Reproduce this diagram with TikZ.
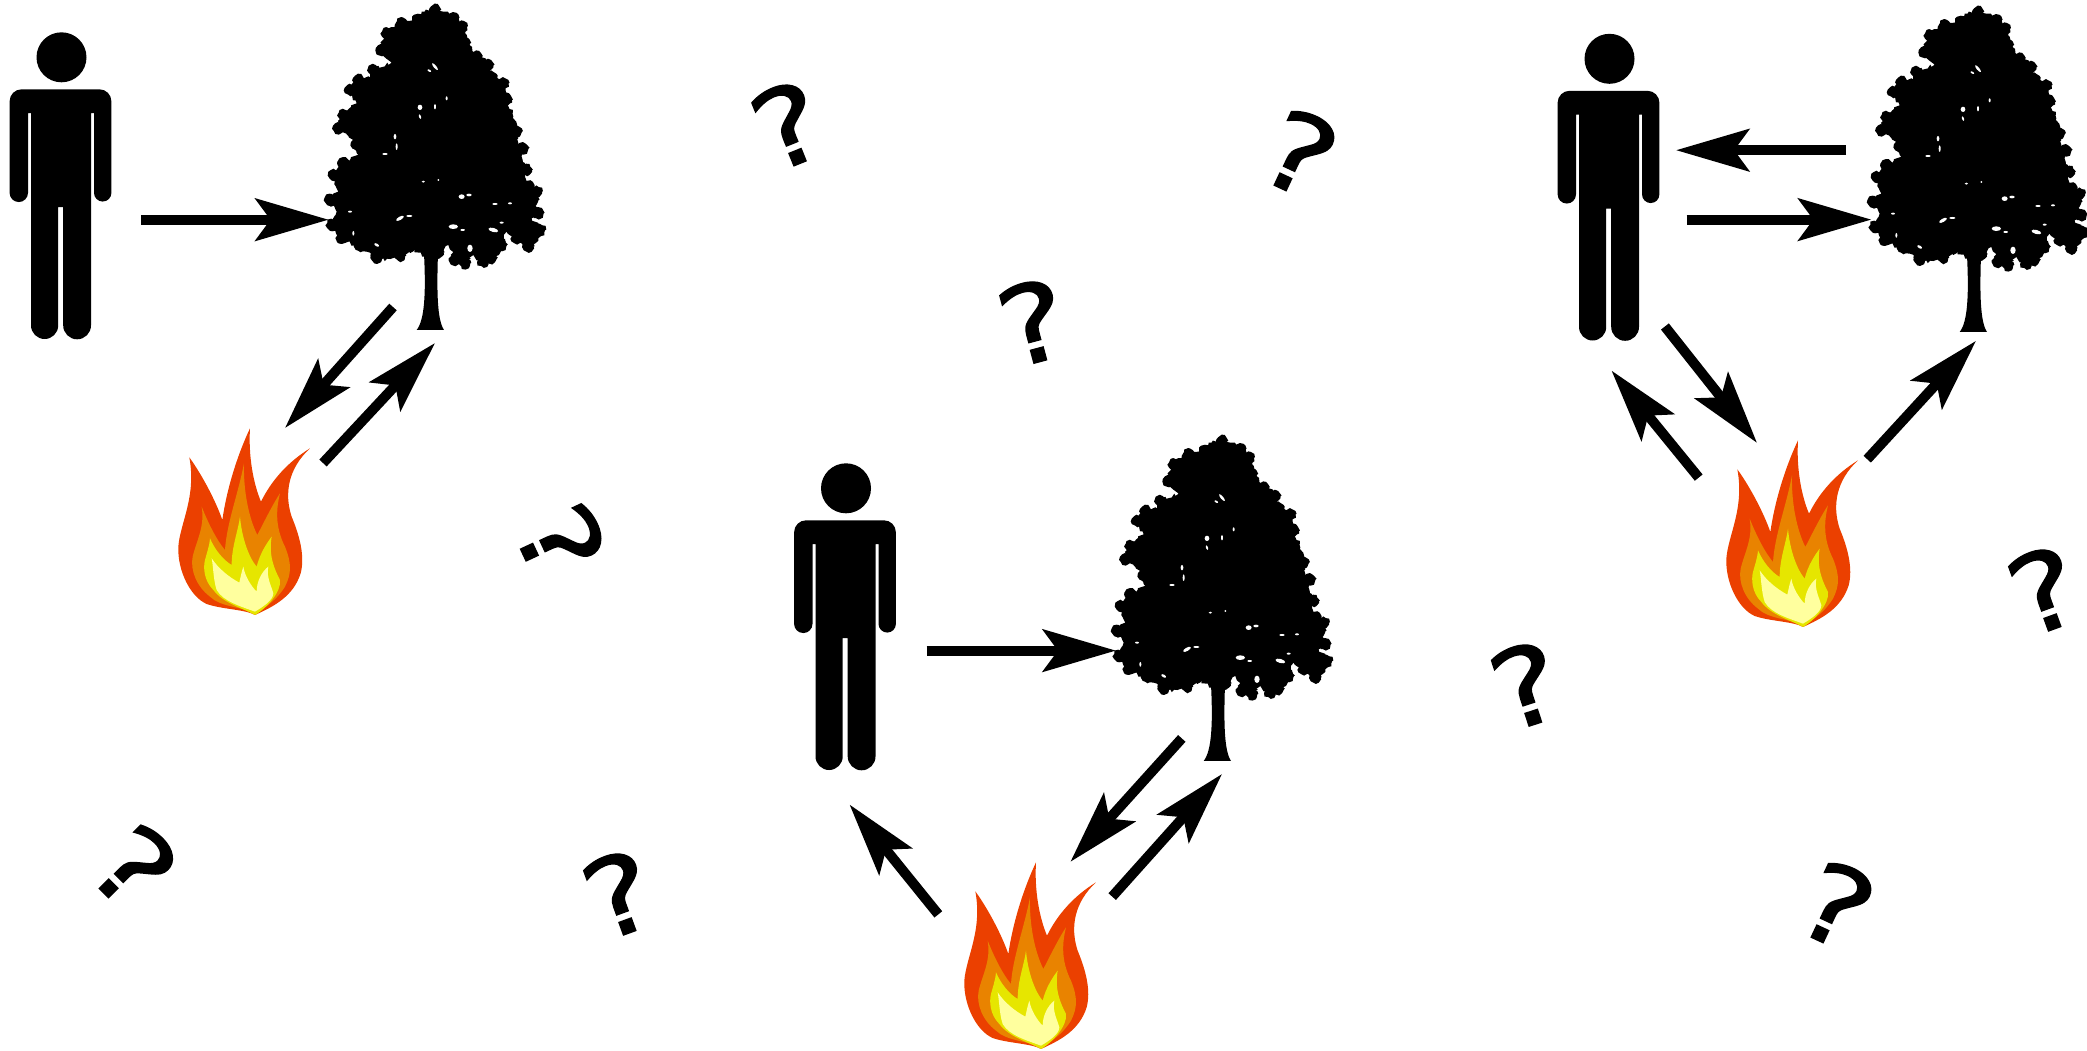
\documentclass[tikz,border=0pt]{standalone}
\usepackage{fontspec}
\usetikzlibrary{arrows.meta,decorations.pathmorphing}
\newfontfamily\qfont[FakeBold=1.2]{DejaVu Sans}
\definecolor{fireA}{HTML}{EB4000}
\definecolor{fireB}{HTML}{E98300}
\definecolor{fireC}{HTML}{E6E600}
\definecolor{fireD}{HTML}{FFFF9E}
\newcommand{\crownpath}{(345,22) -- (400,50) -- (430,75) -- (440,130) -- (470,165) -- (510,190) -- (520,230) -- (555,245)
			-- (565,300) -- (580,350) -- (590,395) -- (597,435) -- (615,440) -- (605,470) -- (625,510) -- (615,530)
			-- (655,570) -- (645,600) -- (662,640) -- (635,655) -- (667,690) -- (655,715) -- (625,748) -- (590,720)
			-- (560,695) -- (550,735) -- (520,782) -- (490,792) -- (460,765) -- (435,797) -- (405,785) -- (385,735)
			-- (355,765) -- (312,770) -- (270,745) -- (240,775) -- (170,780) -- (140,755) -- (120,745) -- (65,720)
			-- (30,675) -- (50,635) -- (24,600) -- (55,575) -- (36,525) -- (65,485) -- (115,465) -- (110,430)
			-- (50,385) -- (65,345) -- (110,310) -- (85,270) -- (110,240) -- (150,232) -- (155,205) -- (215,188)
			-- (180,150) -- (195,95) -- (240,65) -- (290,60) -- (305,35) -- cycle}
\tikzset{
	iconbox/.style={inner sep=0pt,minimum width=100pt,minimum height=100pt},
	qmark/.style={inner sep=0pt,font=\qfont\fontsize{108}{108}\selectfont},
	manicon/.pic={
		\begin{scope}[shift={(-61,-186)}]
		\fill (61.5,57.3) circle [x radius=25,y radius=25];
		\fill (9.6,101.3) arc[start angle=180,end angle=270,radius=12] -- (99.4,89.3)
			arc[start angle=270,end angle=360,radius=12] -- (111.4,192.85)
			arc[start angle=0,end angle=180,radius=8.7] -- (94,113) -- (91,113) -- (91,325.4)
			arc[start angle=0,end angle=180,radius=13.9] -- (63.2,207) -- (58.2,207) -- (58.2,325.4)
			arc[start angle=0,end angle=180,radius=13.6] -- (31,113) -- (28,113) -- (28,192.85)
			arc[start angle=0,end angle=180,radius=9.2] -- cycle;
		\end{scope}
	},
	treeicon/.pic={
		\begin{scope}[shift={(-115,-168)},scale=.3333]
		\pgfmathsetseed{7}
		\fill[decorate,decoration={random steps,segment length=3pt,amplitude=2pt}] \crownpath;
		\foreach \lx/\ly in {345/30,400/55,425/80,435/130,470/170,505/195,515/230,550/250,560/300,590/395,610/445,
			620/510,650/575,640/600,655/640,660/690,625/740,590/715,545/735,515/775,490/785,435/790,405/780,
			355/758,270/740,240/768,170/773,120/738,65/713,35/675,30/600,42/525,70/490,110/435,55/385,70/345,
			90/270,115/240,160/210,185/150,200/100,245/70,295/60}
			\fill[decorate,decoration={random steps,segment length=2.5pt,amplitude=1pt}] (\lx,\ly) circle (16);
		\fill (312,760) .. controls (318,880) and (314,960) .. (290,990) -- (372,990)
			.. controls (352,960) and (350,880) .. (354,760) -- cycle;
		\foreach \sx/\sy/\rx/\ry/\ra in {300/322/7/8/0,345/200/13/4/-50,328/212/6/3/-30,240/655/13/5/30,268/648/9/3/0,
			425/590/9/7/0,447/585/8/4/0,400/680/14/7/0,428/690/7/3/0,520/690/15/6/-15,450/745/8/11/0,
			170/735/8/4/-30,225/410/4/8/0,230/440/3/10/0,195/462/8/3/0,380/295/3/6/0,300/350/3/7/20,
			525/612/8/3/0,570/610/6/3/0,545/668/6/3/0,345/320/3/8/0,90/635/6/3/0,100/700/3/7/0,310/545/5/3/0,355/540/3/3/0}
			\fill[white] (\sx,\sy) circle [x radius=\rx,y radius=\ry,rotate=\ra];
		\end{scope}
	},
	fireicon/.pic={
		\begin{scope}[shift={(-84,-121)},scale=.3333]
		\fill[fireA] (285,645) .. controls (255,628) and (185,628) .. (140,612) .. controls (90,590) and (52,510) .. (55,440)
			.. controls (60,370) and (110,290) .. (88,172) .. controls (130,230) and (170,310) .. (187,360)
			.. controls (200,270) and (230,170) .. (270,85) .. controls (265,170) and (280,250) .. (303,305)
			.. controls (335,240) and (385,185) .. (450,145) .. controls (385,205) and (372,280) .. (395,350)
			.. controls (420,410) and (435,470) .. (422,520) .. controls (400,590) and (340,620) .. (285,645) -- cycle;
		\fill[fireB] (285,640) .. controls (240,620) and (180,620) .. (150,590) .. controls (110,560) and (90,510) .. (98,470)
			.. controls (110,420) and (135,380) .. (125,320) .. controls (145,370) and (170,420) .. (195,450)
			.. controls (200,370) and (235,280) .. (252,190) .. controls (250,270) and (265,350) .. (292,405)
			.. controls (315,360) and (340,310) .. (360,280) .. controls (345,340) and (350,390) .. (375,440)
			.. controls (395,490) and (395,520) .. (375,560) .. controls (350,600) and (320,620) .. (285,640) -- cycle;
		\fill[fireC] (285,645) .. controls (250,625) and (190,610) .. (160,570) .. controls (130,540) and (130,500) .. (135,480)
			.. controls (140,460) and (148,440) .. (150,415) .. controls (165,450) and (190,480) .. (215,495)
			.. controls (215,440) and (235,390) .. (240,350) .. controls (245,410) and (265,470) .. (290,500)
			.. controls (300,460) and (320,430) .. (335,410) .. controls (325,470) and (345,510) .. (360,540)
			.. controls (365,575) and (320,625) .. (285,645) -- cycle;
		\fill[fireD] (285,635) .. controls (245,620) and (190,605) .. (170,570) .. controls (160,540) and (160,500) .. (155,475)
			.. controls (175,505) and (205,530) .. (238,548) .. controls (242,530) and (245,515) .. (250,500)
			.. controls (255,530) and (275,560) .. (290,575) .. controls (290,545) and (305,515) .. (325,500)
			.. controls (318,530) and (335,560) .. (340,580) .. controls (340,600) and (310,620) .. (285,635) -- cycle;
		\end{scope}
	}
}
\begin{document}
\begin{tikzpicture}[x=1pt,y=-1pt,->,>={Stealth[length=73pt,width=42pt,inset=15pt]},line width=10pt]
		\useasboundingbox (0,0) rectangle (2087,1050);
		\node[iconbox] (man1) at (61,186) {};
		\node[iconbox] (tree1) at (435,168) {};
		\node[iconbox] (fire1) at (244,521) {};
		\node[iconbox] (man2) at (845.5,617) {};
		\node[iconbox] (tree2) at (1222,599) {};
		\node[iconbox] (fire2) at (1030,955) {};
		\node[iconbox] (man3) at (1609,187.5) {};
		\node[iconbox] (tree3) at (1978,170) {};
		\node[iconbox] (fire3) at (1792,533) {};
		\pic at (man1) {manicon};
		\pic at (man2) {manicon};
		\pic at (man3) {manicon};
		\pic at (tree1) {treeicon};
		\pic at (tree2) {treeicon};
		\pic at (tree3) {treeicon};
		\pic at (fire1) {fireicon};
		\pic at (fire2) {fireicon};
		\pic at (fire3) {fireicon};
		\path 
		([shift={(80.4,33.7)}]man1.center) edge ([shift={(-106.4,51.7)}]tree1.center)
		([shift={(-42,139)}]tree1.center) edge ([shift={(41,-93)}]fire1.center)
		([shift={(79,-58)}]fire1.center) edge ([shift={(0,175)}]tree1.center)
		([shift={(81,33.6)}]man2.center) edge ([shift={(-106,51.6)}]tree2.center)
		([shift={(-40.2,139.4)}]tree2.center) edge ([shift={(40.4,-93.2)}]fire2.center)
		([shift={(82.2,-58.4)}]fire2.center) edge ([shift={(0,175)}]tree2.center)
		([shift={(-91.7,-40.6)}]fire2.center) edge ([shift={(4,187.5)}]man2.center)
		([shift={(-131.8,-19.8)}]tree3.center) edge ([shift={(67,-37.3)}]man3.center)
		([shift={(77.5,32.1)}]man3.center) edge ([shift={(-106.6,49.6)}]tree3.center)
		([shift={(55.9,139)}]man3.center) edge ([shift={(-35,-90.1)}]fire3.center)
		([shift={(-93.3,-55.4)}]fire3.center) edge ([shift={(2.5,183.1)}]man3.center)
		([shift={(75.2,-73.8)}]fire3.center) edge ([shift={(-2,170.8)}]tree3.center);
		\node[qmark,rotate=22,xscale=1.2] (q1) at (788,125) {?};
		\node[qmark,rotate=-25,xscale=1.2] (q2) at (1300,153) {?};
		\node[qmark,rotate=15,xscale=1.2] (q3) at (1033,322) {?};
		\node[qmark,rotate=-65,xscale=1.2] (q4) at (561,541) {?};
		\node[qmark,rotate=-45,xscale=1.2] (q5) at (134.5,867) {?};
		\node[qmark,rotate=20,xscale=1.2] (q6) at (619,894) {?};
		\node[qmark,rotate=18,xscale=1.2] (q7) at (1526,685) {?};
		\node[qmark,rotate=-25,xscale=1.2] (q8) at (1837,905) {?};
		\node[qmark,rotate=20,xscale=1.2] (q9) at (2044,590) {?};
		\end{tikzpicture}
\end{document}
